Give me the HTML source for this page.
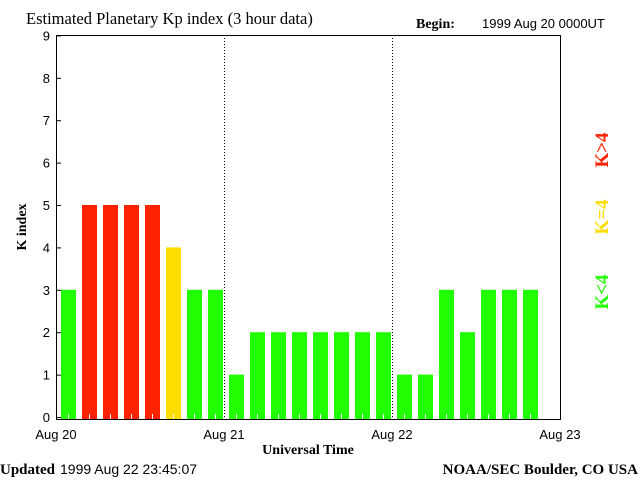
<!DOCTYPE html>
<html><head><meta charset="utf-8"><style>
body{margin:0;background:#fff;width:640px;height:480px;overflow:hidden}
svg{display:block}
.s{font-family:"Liberation Sans",sans-serif;font-size:13px}
.b{font-family:"Liberation Serif",serif;font-weight:bold;font-size:14px}
</style></head><body>
<svg id="c" width="640" height="480">
<text class="b" x="26" y="24" style="font-size:16.5px;font-weight:normal">Estimated Planetary Kp index (3 hour data)</text>
<text class="b" x="416" y="28">Begin:</text>
<text class="s" x="482" y="28">1999 Aug 20 0000UT</text>
<text class="b" x="0" y="474" style="font-size:15px">Updated</text>
<text class="s" x="60" y="474" style="font-size:14px">1999 Aug 22 23:45:07</text>
<text class="b" x="638" y="474" text-anchor="end" style="font-size:15px">NOAA/SEC Boulder, CO USA</text>
<text class="b" x="308" y="454" text-anchor="middle">Universal Time</text>
<text class="b" transform="translate(26,227) rotate(-90)" text-anchor="middle">K index</text>
<text class="b" transform="translate(608,150) rotate(-90)" text-anchor="middle" fill="#ff2200" style="font-size:19px">K&gt;4</text>
<text class="b" transform="translate(608,217) rotate(-90)" text-anchor="middle" fill="#ffdd00" style="font-size:19px">K=4</text>
<text class="b" transform="translate(608,292) rotate(-90)" text-anchor="middle" fill="#22ff00" style="font-size:19px">K&lt;4</text>
<g id="plot"></g>
</svg>
<script>
const kpValues=[3,5,5,5,5,4,3,3, 1,2,2,2,2,2,2,2, 1,1,3,2,3,3,3];
const yTicks=[0,1,2,3,4,5,6,7,8,9];
const dayLabels=["Aug 20","Aug 21","Aug 22","Aug 23"];
const L=56,R=560,T=35,B=419,Y0=417,UNIT=42.4;
const y=v=>Y0-v*UNIT;
const x=i=>L+(R-L)*i/24;
const NS="http://www.w3.org/2000/svg";
const g=document.getElementById('plot');
function mk(t,a){const e=document.createElementNS(NS,t);for(const k in a)e.setAttribute(k,a[k]);g.appendChild(e);return e;}
kpValues.forEach((v,i)=>{
  const col=v>4?"#ff2200":(v==4?"#ffdd00":"#22ff00");
  const r=mk('rect',{x:x(i)+5,y:y(v),width:15,height:B-y(v),fill:col});
  
  
  const t=mk('line',{x1:x(i)+12.5,x2:x(i)+12.5,y1:B-5,y2:B,stroke:"#fff"});
  
  
});
[1,2].forEach(d=>{
  const l=mk('line',{x1:x(d*8)+0.5,x2:x(d*8)+0.5,y1:T,y2:B,stroke:"#000","stroke-dasharray":"1,2"});
  
  
});
const fr=mk('rect',{x:L+0.5,y:T+0.5,width:R-L,height:B-T,fill:"none",stroke:"#000"});


yTicks.forEach(v=>{
  const tk=mk('line',{x1:L,x2:L+5,y1:y(v)+0.5,y2:y(v)+0.5,stroke:"#000"});
  
  
  const t=mk('text',{x:L-6,y:y(v)+5,"text-anchor":"end",class:"s","font-size":"15"});
  t.textContent=v;
  
  
});
dayLabels.forEach((s,d)=>{
  const t=mk('text',{x:x(d*8),y:439,"text-anchor":"middle",class:"s"});
  t.textContent=s;
  
  
});
</script>
</body></html>
